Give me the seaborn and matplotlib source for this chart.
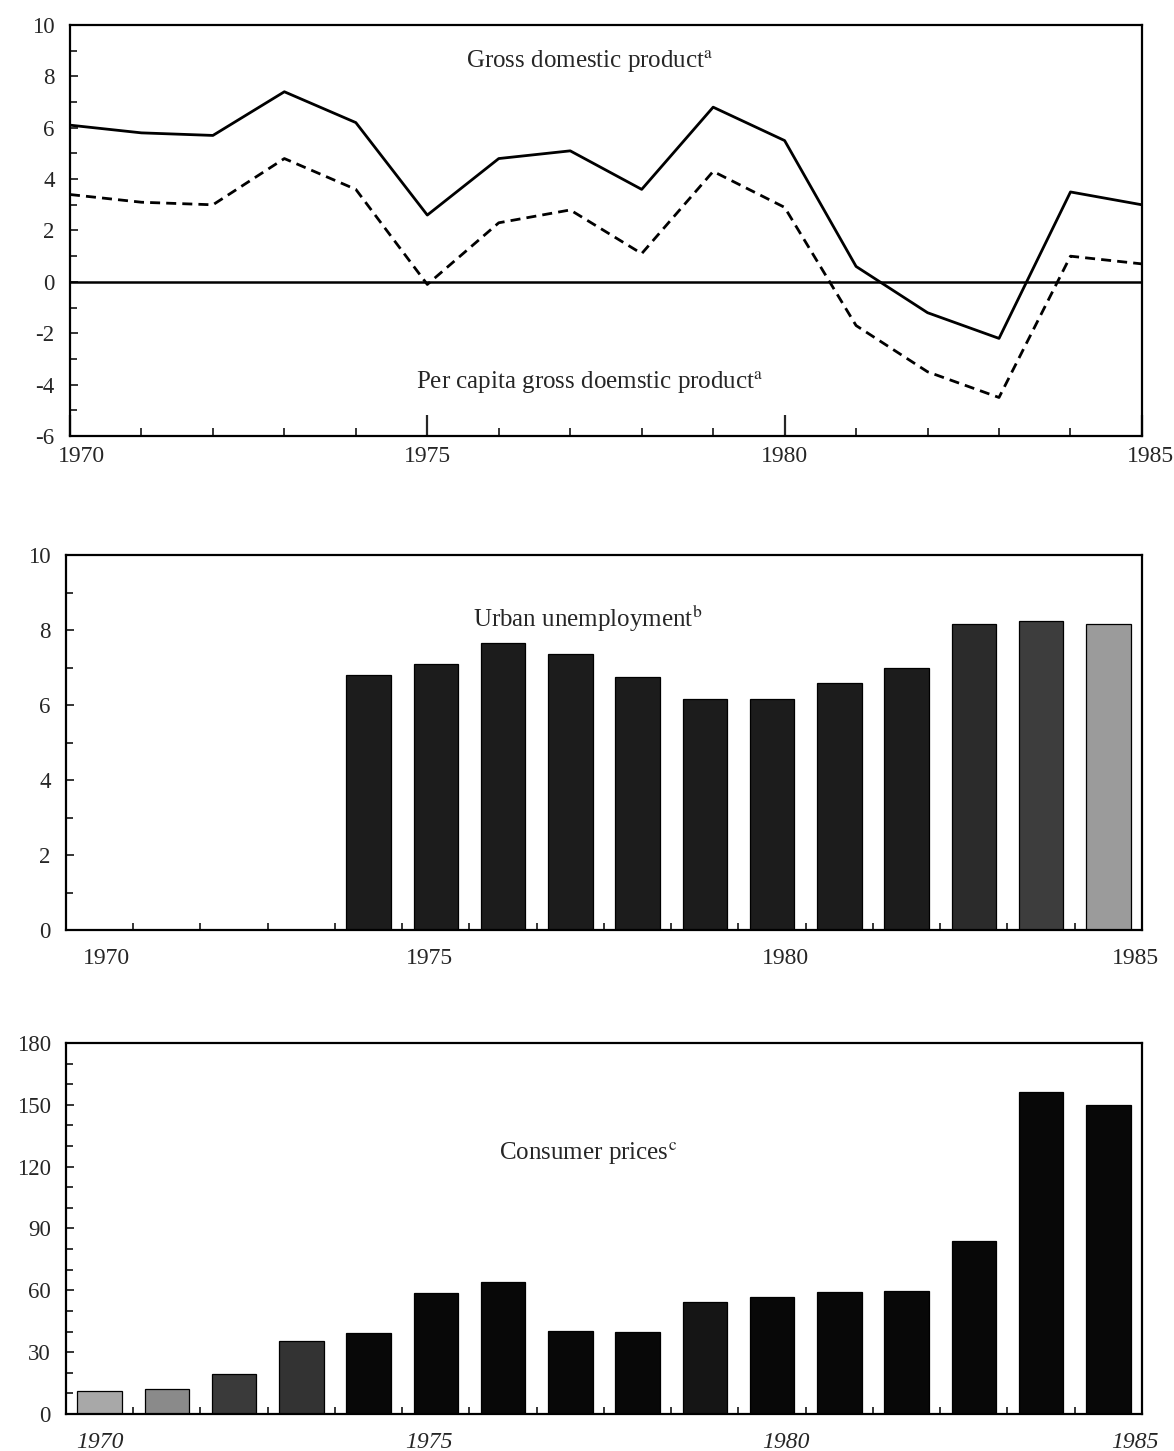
import pandas as pd
import seaborn as sns
import matplotlib.pyplot as plt
import matplotlib.transforms as mtransforms
from matplotlib.ticker import MultipleLocator, FixedLocator

# ---- data ----
years = list(range(1970, 1986))
gdp = [6.1, 5.8, 5.7, 7.4, 6.2, 2.6, 4.8, 5.1, 3.6, 6.8, 5.5, 0.6, -1.2, -2.2, 3.5, 3.0]
gdp_per_capita = [3.4, 3.1, 3.0, 4.8, 3.6, -0.1, 2.3, 2.8, 1.1, 4.3, 2.9, -1.7, -3.5, -4.5, 1.0, 0.7]

unemp_years = list(range(1974, 1986))
unemployment = [6.8, 7.1, 7.65, 7.35, 6.75, 6.15, 6.15, 6.6, 7.0, 8.15, 8.25, 8.15]

cpi = [11.3, 12.1, 19.6, 35.6, 39.4, 58.8, 64.0, 40.3, 40.0, 54.4, 56.9, 59.3, 59.9, 83.8, 156.4, 150.0]

tick_years = [1970, 1975, 1980, 1985]

unemp_colors = ["#1c1c1c"] * 9 + ["#2b2b2b", "#3d3d3d", "#9b9b9b"]
cpi_colors = ["#a8a8a8", "#8a8a8a", "#3a3a3a", "#333333"] + ["#080808"] * 5 + ["#151515"] + ["#080808"] * 6

sns.set_style("white")
plt.rcParams["font.family"] = ["Liberation Serif", "DejaVu Serif"]
plt.rcParams["mathtext.fontset"] = "stix"

fig = plt.figure(figsize=(11.74, 14.51), dpi=100)
ax1 = fig.add_axes([0.0596, 0.6995, 0.9131, 0.2833])
ax2 = fig.add_axes([0.0562, 0.3590, 0.9165, 0.2585])
ax3 = fig.add_axes([0.0562, 0.0255, 0.9165, 0.2557])


def style_axes(ax):
    for s in ax.spines.values():
        s.set_visible(True)
        s.set_color("black")
        s.set_linewidth(1.6)
    ax.tick_params(axis="y", which="both", direction="in", left=True, right=False,
                   labelsize=16.5, pad=11, width=1.3)
    ax.tick_params(axis="y", which="major", length=6)
    ax.tick_params(axis="y", which="minor", length=5)
    ax.set_xlabel("")
    ax.set_ylabel("")


# ---- panel 1: GDP lines ----
df_gdp = pd.DataFrame({
    "year": years * 2,
    "value": gdp + gdp_per_capita,
    "series": ["gdp"] * len(years) + ["per capita"] * len(years),
})
sns.lineplot(data=df_gdp, x="year", y="value", style="series", color="black",
             dashes={"gdp": "", "per capita": (3.6, 2.2)}, linewidth=2.0,
             legend=False, ax=ax1)
ax1.axhline(0, color="black", lw=1.8)
ax1.set_xlim(1970, 1985)
ax1.set_ylim(-6, 10)
ax1.yaxis.set_major_locator(MultipleLocator(2))
ax1.yaxis.set_minor_locator(MultipleLocator(1))
ax1.set_yticklabels([f"{int(v)}" for v in ax1.get_yticks()])
style_axes(ax1)
ax1.set_xticks(tick_years)
ax1.set_xticklabels([str(y) for y in tick_years])
ax1.xaxis.set_minor_locator(MultipleLocator(1))
ax1.tick_params(axis="x", which="major", direction="in", length=15, width=1.6,
                labelsize=17, pad=7, bottom=True)
ax1.tick_params(axis="x", which="minor", direction="in", length=6, width=1.3, bottom=True)
# nudge the end labels as in the original print
for lbl, dx in zip(ax1.get_xticklabels(), [12, 0, 0, 9]):
    lbl.set_transform(lbl.get_transform() +
                      mtransforms.ScaledTranslation(dx / 100, 0, fig.dpi_scale_trans))
ax1.text(0.485, 0.91, r"Gross domestic product$^{\mathrm{a}}$", transform=ax1.transAxes,
         ha="center", va="center", fontsize=18)
ax1.text(0.485, 0.13, r"Per capita gross doemstic product$^{\mathrm{a}}$", transform=ax1.transAxes,
         ha="center", va="center", fontsize=18)

# ---- panel 2: urban unemployment bars ----
df_un = pd.DataFrame({"year": unemp_years, "value": unemployment,
                      "label": [str(y) for y in unemp_years]})
sns.barplot(data=df_un, x="year", y="value", hue="label",
            palette=dict(zip(df_un["label"], unemp_colors)), native_scale=True,
            dodge=False, width=0.66, errorbar=None, legend=False,
            edgecolor="black", linewidth=0.9, ax=ax2)
ax2.set_xlim(1969.5, 1985.5)
ax2.set_ylim(0, 10)
ax2.yaxis.set_major_locator(MultipleLocator(2))
ax2.yaxis.set_minor_locator(MultipleLocator(1))
ax2.set_yticklabels([f"{int(v)}" for v in ax2.get_yticks()])
style_axes(ax2)
ax2.set_xticks([1970.1, 1974.9, 1980.2, 1985.4])
ax2.set_xticklabels([str(y) for y in tick_years])
ax2.xaxis.set_minor_locator(FixedLocator([y + 0.5 for y in years[:-1]]))
ax2.tick_params(axis="x", which="major", length=0, labelsize=17, pad=13, bottom=True)
ax2.tick_params(axis="x", which="minor", direction="in", length=5, width=1.3, bottom=True)
ax2.text(0.485, 0.83, r"Urban unemployment$^{\mathrm{b}}$", transform=ax2.transAxes,
         ha="center", va="center", fontsize=18)

# ---- panel 3: consumer prices bars ----
df_cpi = pd.DataFrame({"year": years, "value": cpi, "label": [str(y) for y in years]})
sns.barplot(data=df_cpi, x="year", y="value", hue="label",
            palette=dict(zip(df_cpi["label"], cpi_colors)), native_scale=True,
            dodge=False, width=0.66, errorbar=None, legend=False,
            edgecolor="black", linewidth=0.9, ax=ax3)
ax3.set_xlim(1969.5, 1985.5)
ax3.set_ylim(0, 180)
ax3.yaxis.set_major_locator(MultipleLocator(30))
ax3.yaxis.set_minor_locator(MultipleLocator(10))
ax3.set_yticklabels([f"{int(v)}" for v in ax3.get_yticks()])
style_axes(ax3)
ax3.set_xticks([1970.0, 1974.9, 1980.2, 1985.4])
ax3.set_xticklabels([str(y) for y in tick_years], style="italic")
ax3.xaxis.set_minor_locator(FixedLocator([y + 0.5 for y in years[:-1]]))
ax3.tick_params(axis="x", which="major", length=0, labelsize=17, pad=13, bottom=True)
ax3.tick_params(axis="x", which="minor", direction="in", length=5, width=1.3, bottom=True)
ax3.text(0.485, 0.70, r"Consumer prices$^{\mathrm{c}}$", transform=ax3.transAxes,
         ha="center", va="center", fontsize=18)

fig.savefig("out.png", dpi=100, facecolor="white")
